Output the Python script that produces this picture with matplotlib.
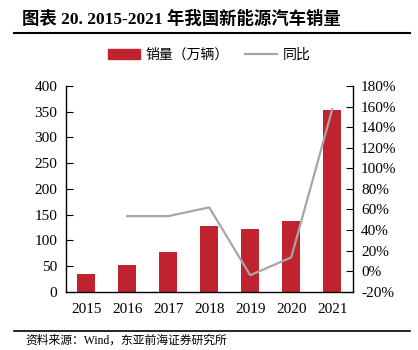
import matplotlib
matplotlib.use("Agg")
import matplotlib.pyplot as plt
from matplotlib.lines import Line2D
from matplotlib.patches import Patch
from matplotlib.ticker import FuncFormatter

years = ["2015", "2016", "2017", "2018", "2019", "2020", "2021"]
sales = [34, 51, 78, 127, 121, 137, 353]          # 销量（万辆）
yoy_years = ["2016", "2017", "2018", "2019", "2020", "2021"]
yoy = [53.5, 53.5, 62, -4, 13.4, 157.6]            # 同比 (%)

FONT = ["Liberation Serif", "Noto Sans CJK SC"]
plt.rcParams["font.family"] = FONT

fig = plt.figure(figsize=(4.18, 3.5), dpi=100)
ax = fig.add_axes([0.157, 0.1666, 0.687, 0.5874])
x = list(range(len(years)))
bar_color = "#c0222e"
ax.bar(x, sales, width=0.43, color=bar_color, zorder=2)
ax.set_xlim(-0.5, len(years) - 0.5)
ax.set_ylim(0, 400)
ax.set_yticks(range(0, 401, 50))
ax.set_xticks(x)
ax.set_xticklabels(years)
for s in ["top"]:
    ax.spines[s].set_visible(False)
ax.spines["left"].set_linewidth(1.0)
ax.spines["bottom"].set_linewidth(1.0)
ax.spines["right"].set_visible(False)
ax.tick_params(axis="y", direction="in", length=5, labelsize=11, pad=6)
ax.tick_params(axis="x", length=0, labelsize=11, pad=8)

ax2 = ax.twinx()
xi = [years.index(y) for y in yoy_years]
ax2.plot(xi, yoy, color="#a6a6a6", lw=1.6, zorder=3)
ax2.set_ylim(-20, 180)
ax2.set_yticks(range(-20, 181, 20))
ax2.yaxis.set_major_formatter(FuncFormatter(lambda v, p: f"{int(v)}%"))
ax2.tick_params(axis="y", direction="in", length=5, labelsize=11, pad=6)
ax2.spines["top"].set_visible(False)
ax2.spines["left"].set_visible(False)
ax2.spines["bottom"].set_visible(False)
ax2.spines["right"].set_linewidth(1.0)

handles = [Patch(color=bar_color), Line2D([], [], color="#a6a6a6", lw=1.6)]
fig.legend(handles, ["销量（万辆）", "同比"], loc="center", bbox_to_anchor=(0.5, 0.843),
           ncol=2, frameon=False, fontsize=10, handlelength=2.3, handleheight=0.8,
           columnspacing=1.2, handletextpad=0.4,
           prop={"family": ["Noto Sans CJK SC"], "size": 10})

fig.text(0.053, 0.946, "图表 20. 2015-2021 年我国新能源汽车销量", fontsize=12.5,
         fontweight="bold", va="center", ha="left")
fig.add_artist(Line2D([0.033, 0.981], [0.905, 0.905], color="black", lw=1.5))
fig.add_artist(Line2D([0.033, 0.981], [0.054, 0.054], color="black", lw=1.2))
fig.text(0.06, 0.026, "资料来源：Wind，东亚前海证券研究所", fontsize=8.5, va="center", ha="left")

fig.savefig("out.png", dpi=100)
